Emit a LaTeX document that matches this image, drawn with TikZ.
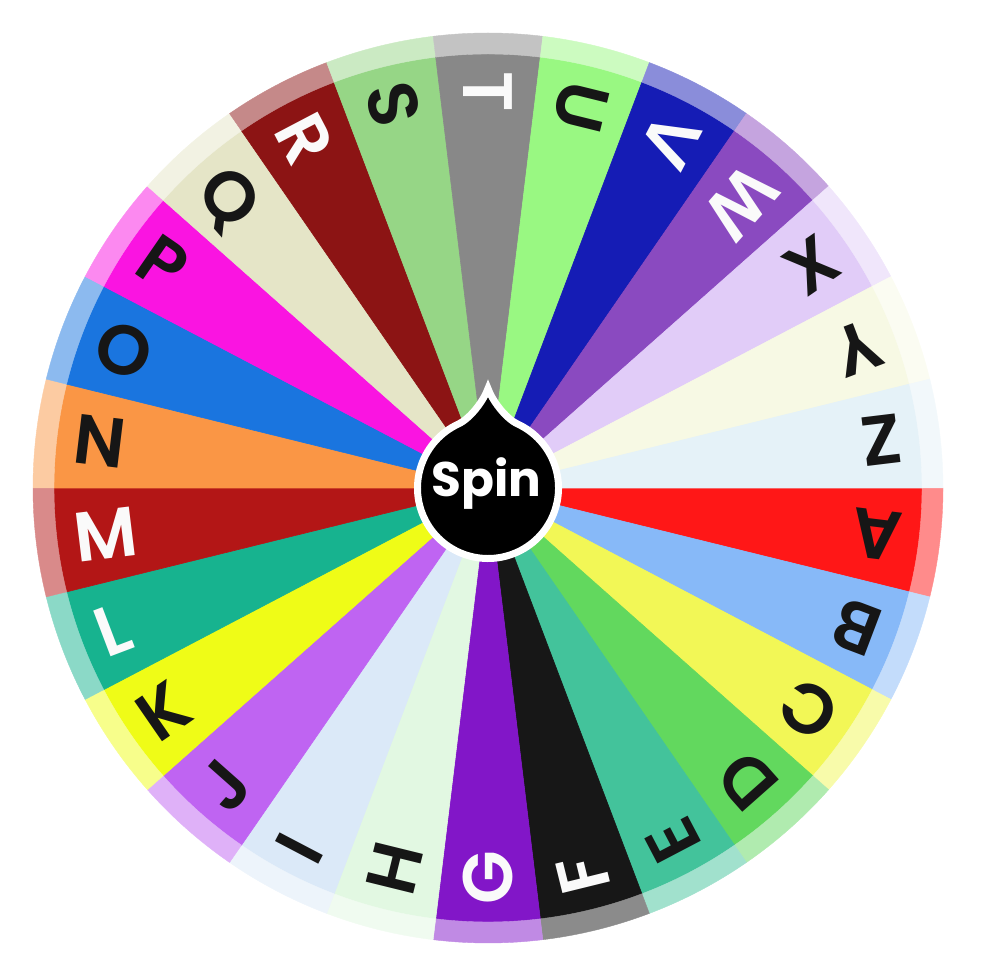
\documentclass[tikz,border=0pt]{standalone}
\usepackage{fontspec}
\setmainfont{Poppins}
\newfontfamily\wheelfont{Poppins SemiBold}
\definecolor{cA}{HTML}{FF1717}
\definecolor{cB}{HTML}{87B9F8}
\definecolor{cC}{HTML}{F2F756}
\definecolor{cD}{HTML}{62D85E}
\definecolor{cE}{HTML}{43C39B}
\definecolor{cF}{HTML}{171717}
\definecolor{cG}{HTML}{8216C8}
\definecolor{cH}{HTML}{E2F8E2}
\definecolor{cI}{HTML}{DBE9F8}
\definecolor{cJ}{HTML}{BF64F2}
\definecolor{cK}{HTML}{EFFC17}
\definecolor{cL}{HTML}{17B38F}
\definecolor{cM}{HTML}{B31616}
\definecolor{cN}{HTML}{FA9645}
\definecolor{cO}{HTML}{1A75DF}
\definecolor{cP}{HTML}{FA14E1}
\definecolor{cQ}{HTML}{E5E5C7}
\definecolor{cR}{HTML}{8C1414}
\definecolor{cS}{HTML}{96D686}
\definecolor{cT}{HTML}{888888}
\definecolor{cU}{HTML}{99F882}
\definecolor{cV}{HTML}{151CB5}
\definecolor{cW}{HTML}{8A4AC0}
\definecolor{cX}{HTML}{E1CCF8}
\definecolor{cY}{HTML}{F7F9E4}
\definecolor{cZ}{HTML}{E5F2F8}
\definecolor{ink}{HTML}{161616}
\definecolor{paper}{HTML}{FAFAFA}
\tikzset{
  letter/.style={inner sep=0pt, anchor=west, text height=49pt, text depth=0pt,
    font=\fontsize{70}{70}\selectfont\wheelfont},
  spinlabel/.style={inner sep=0pt, text height=34pt, text depth=0pt, text=white,
    font=\fontsize{48.5}{48.5}\selectfont\bfseries},
}
\begin{document}
\begin{tikzpicture}
\useasboundingbox (0pt,0pt) rectangle (995pt,971pt);
\begin{scope}[shift={(488pt,483pt)}]
\def\seg{13.846153846}
\foreach \i/\L/\t in {0/A/ink,1/B/ink,2/C/ink,3/D/ink,4/E/ink,5/F/paper,6/G/paper,7/H/ink,8/I/ink,9/J/ink,10/K/ink,11/L/paper,12/M/paper,13/N/ink,14/O/ink,15/P/ink,16/Q/ink,17/R/paper,18/S/ink,19/T/paper,20/U/ink,21/V/paper,22/W/paper,23/X/ink,24/Y/ink,25/Z/ink}{
  \pgfmathsetmacro\a{-\seg*\i}
  \pgfmathsetmacro\b{-\seg*(\i+1)}
  \pgfmathsetmacro\m{-\seg*(\i+0.5)}
  \pgfmathsetmacro\r{\m+180}
  \filldraw[fill=c\L, draw=c\L, line width=0.6pt] (0pt,0pt) -- (\a:434pt) arc[start angle=\a, end angle=\b, radius=434pt] -- cycle;
  \filldraw[fill=c\L!50!white, draw=c\L!50!white, line width=0.4pt] (\a:434pt) arc[start angle=\a, end angle=\b, radius=434pt] -- (\b:455pt) arc[start angle=\b, end angle=\a, radius=455pt] -- cycle;
  \node[letter, text=\t, rotate=\r] (l\L) at (\m:417pt) {\L};
}
\filldraw[fill=black, draw=white, line width=7pt, line join=miter]
  (0pt,99.5pt) .. controls (-4pt,88pt) and (-17.1pt,69.8pt) .. (115:70.5pt)
  arc[start angle=115, end angle=425, radius=70.5pt]
  .. controls (17.1pt,69.8pt) and (4pt,88pt) .. cycle;
\node[spinlabel] (spin) at (-1.5pt,8pt) {Spin};
\end{scope}
\end{tikzpicture}
\end{document}
